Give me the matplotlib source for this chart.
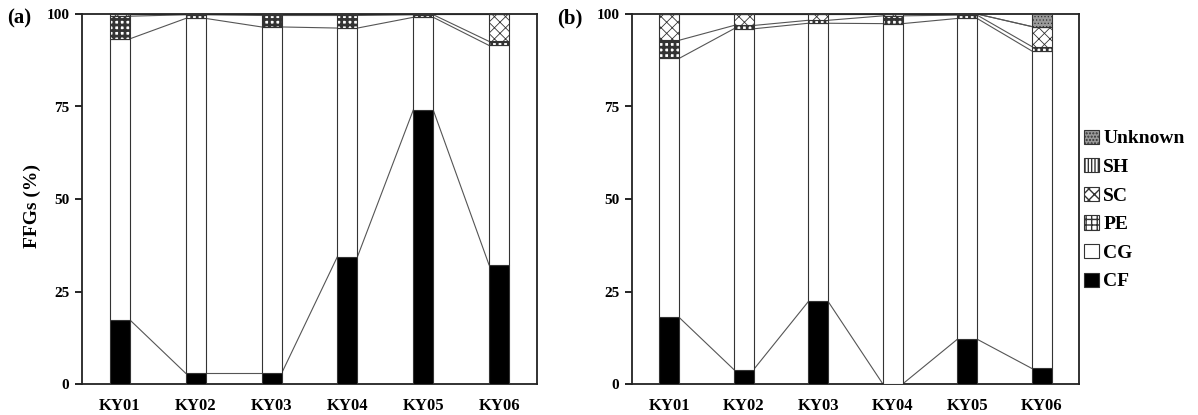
import matplotlib
matplotlib.use("Agg")
import matplotlib.pyplot as plt
import numpy as np
from matplotlib.patches import Patch

sites = ['KY01', 'KY02', 'KY03', 'KY04', 'KY05', 'KY06']
groups = ['CF', 'CG', 'PE', 'SC', 'SH', 'Unknown']

# panel (a)
CF_a = [17.3, 2.9, 2.9, 34.4, 74.0, 32.2]
CG_a = [76.0, 95.9, 93.6, 61.8, 25.1, 59.3]
PE_a = [6.1, 1.0, 3.1, 3.4, 0.7, 1.1]
SC_a = [0.6, 0.2, 0.4, 0.4, 0.2, 7.4]
SH_a = [0.0, 0.0, 0.0, 0.0, 0.0, 0.0]
UN_a = [0.0, 0.0, 0.0, 0.0, 0.0, 0.0]

# panel (b)
CF_b = [18.0, 3.9, 22.3, 0.0, 12.1, 4.2]
CG_b = [70.0, 92.1, 75.2, 97.4, 86.7, 85.8]
PE_b = [4.9, 0.9, 0.8, 2.1, 0.9, 1.2]
SC_b = [7.1, 3.1, 1.7, 0.5, 0.3, 5.4]
SH_b = [0.0, 0.0, 0.0, 0.0, 0.0, 0.0]
UN_b = [0.0, 0.0, 0.0, 0.0, 0.0, 3.4]

yticks = [0, 25, 50, 75, 100]

styles = {
    'CF': dict(facecolor='black', hatch=None, hlw=1.0),
    'CG': dict(facecolor='white', hatch=None, hlw=1.0),
    'PE': dict(facecolor='white', hatch='+++', hlw=2.0),
    'SC': dict(facecolor='white', hatch='xxx', hlw=0.6),
    'SH': dict(facecolor='white', hatch='|||||', hlw=0.8),
    'Unknown': dict(facecolor='#9a9a9a', hatch='.....', hlw=0.5),
}

SERIF = 'Liberation Serif'
plt.rcParams['font.family'] = [SERIF, 'DejaVu Serif']
plt.rcParams['font.weight'] = 'bold'

fig = plt.figure(figsize=(11.98, 4.15), dpi=100)
axA = fig.add_axes([82/1198, 31/415, 455/1198, 370/415])
axB = fig.add_axes([632/1198, 31/415, 447/1198, 370/415])

W = 0.265
handles = {}

def draw(ax, data):
    x = np.arange(len(sites))
    bottom = np.zeros(len(sites))
    levels = []
    for g, vals in zip(groups, data):
        st = styles[g]
        vals = np.array(vals, dtype=float)
        bars = ax.bar(x, vals, W, bottom=bottom, facecolor=st['facecolor'],
                      edgecolor='#333333', linewidth=0.8, hatch=st['hatch'],
                      zorder=3)
        for b in bars:
            try:
                b.set_hatch_linewidth(st['hlw'])
            except Exception:
                pass
        handles[g] = bars
        bottom = bottom + vals
        levels.append(bottom.copy())
    # series connecting lines
    for lev in levels[:-1]:
        for i in range(len(sites) - 1):
            ax.plot([x[i] + W/2, x[i+1] - W/2], [lev[i], lev[i+1]],
                    color='#555555', lw=0.8, zorder=2)
    ax.set_xlim(-0.5, len(sites) - 0.5)
    ax.set_ylim(0, 100)
    ax.set_yticks(yticks)
    ax.set_yticklabels([str(t) for t in yticks], fontsize=11, fontweight='bold')
    ax.set_xticks(x)
    ax.set_xticklabels(sites, fontsize=12, fontweight='bold')
    ax.tick_params(axis='x', length=0, pad=10)
    ax.tick_params(axis='y', length=5, width=1.2, direction='out', pad=4)
    for s in ax.spines.values():
        s.set_linewidth(1.3)
        s.set_color('#222222')

draw(axA, [CF_a, CG_a, PE_a, SC_a, SH_a, UN_a])
draw(axB, [CF_b, CG_b, PE_b, SC_b, SH_b, UN_b])

fig.text(7/1198, 1 - 18/415, '(a)', fontsize=15, fontweight='bold', va='center', ha='left')
fig.text(557/1198, 1 - 18/415, '(b)', fontsize=15, fontweight='bold', va='center', ha='left')
fig.text(32/1198, 1 - 206/415, 'FFGs (%)', fontsize=14, fontweight='bold',
         rotation=90, va='center', ha='center')

order = ['Unknown', 'SH', 'SC', 'PE', 'CG', 'CF']
leg_handles = []
for g in order:
    st = styles[g]
    p = Patch(facecolor=st['facecolor'], edgecolor='#333333', hatch=st['hatch'], linewidth=0.8)
    try:
        p.set_hatch_linewidth(min(st['hlw'], 1.0))
    except Exception:
        pass
    leg_handles.append(p)
leg = fig.legend(leg_handles, order, loc='center left',
                 bbox_to_anchor=(1082/1198, 1 - 210/415), frameon=False,
                 prop={'family': SERIF, 'weight': 'bold', 'size': 14},
                 handlelength=0.75, handleheight=0.75, handletextpad=0.25,
                 labelspacing=0.55, borderpad=0.1, borderaxespad=0)

fig.savefig('out.png', dpi=100)
